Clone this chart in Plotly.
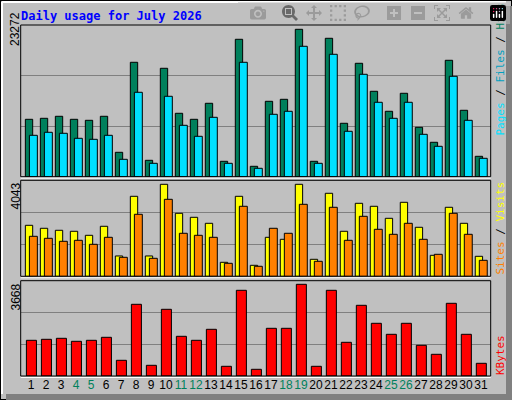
import plotly.graph_objects as go

days = list(range(1, 32))
hits = [9063, 9221, 9537, 9063, 8905, 9537, 3853, 18064, 2590, 17116, 10011, 9063, 11590, 2432, 21695, 1642,
        11905, 12221, 23272, 2432, 21853, 8432, 17906, 13485, 10327, 13169, 7800, 5432, 18380, 10485, 3221]
files = [6537, 7011, 6853, 6063, 5905, 6537, 2747, 13327, 2116, 12695, 8116, 6379, 9379, 2116, 18064, 1326,
         9853, 10327, 20590, 2116, 19327, 7169, 16169, 11748, 9221, 11748, 6695, 4800, 15853, 8905, 2905]
sites = [2241, 2110, 2022, 1978, 1802, 2198, 894, 3516, 894, 4043, 2769, 2593, 2329, 615, 3516, 483,
         1714, 1626, 4043, 747, 3648, 1978, 3208, 3077, 2549, 3252, 2154, 923, 3033, 2329, 879]
visits = [1758, 1670, 1538, 1582, 1406, 1714, 835, 2725, 791, 3384, 1890, 1802, 1714, 571, 3077, 440,
          2110, 1890, 3164, 659, 3033, 1582, 2637, 2066, 1846, 2329, 1626, 967, 2769, 1846, 703]
kbytes = [1428, 1468, 1508, 1388, 1428, 1548, 628, 2868, 428, 2668, 1588, 1428, 1868, 388, 3428, 268,
          1908, 1908, 3668, 388, 3428, 1348, 2828, 2108, 1668, 2108, 1228, 868, 2908, 1668, 508]
weekends = [4, 5, 11, 12, 18, 19, 25, 26]

W, H = 512, 400
def px(x): return x / W
def py(y): return 1 - y / H

line = dict(color="black", width=1)
fig = go.Figure()
fig.add_bar(x=days, y=hits, width=0.49, offset=-0.38, marker=dict(color="#00805C", line=line), xaxis="x", yaxis="y")
fig.add_bar(x=days, y=files, width=0.53, offset=-0.11, marker=dict(color="#00E0FF", line=line), xaxis="x", yaxis="y")
fig.add_bar(x=days, y=sites, width=0.49, offset=-0.38, marker=dict(color="#FFFF00", line=line), xaxis="x2", yaxis="y2")
fig.add_bar(x=days, y=visits, width=0.53, offset=-0.11, marker=dict(color="#FF8000", line=line), xaxis="x2", yaxis="y2")
fig.add_bar(x=days, y=kbytes, width=0.67, offset=-0.31, marker=dict(color="#FF0000", line=line), xaxis="x3", yaxis="y3")

xr = [0.31, 31.65]
xdom = [px(20.7), px(490.7)]
ticktext = [f'<span style="color:#00805C">{d}</span>' if d in weekends else str(d) for d in days]
common_x = dict(range=xr, domain=xdom, showgrid=False, zeroline=False, showline=False, ticks="", automargin=False)
def yax(top, dom):
    return dict(range=[0, top], domain=dom, tickvals=[top / 3, 2 * top / 3], showticklabels=False,
                gridcolor="#808080", gridwidth=1, zeroline=False, showline=False, ticks="", automargin=False)

fig.update_layout(
    width=W, height=H, margin=dict(l=0, r=0, t=0, b=0),
    paper_bgcolor="#C0C0C0", plot_bgcolor="#C0C0C0",
    barmode="overlay", showlegend=False,
    font=dict(family="Liberation Sans", size=12, color="black"),
    xaxis=dict(**common_x, anchor="y", showticklabels=False),
    xaxis2=dict(**common_x, anchor="y2", showticklabels=False),
    xaxis3=dict(**common_x, anchor="y3", tickvals=days, ticktext=ticktext, tickangle=0,
                tickfont=dict(family="Liberation Sans", size=12)),
    yaxis=yax(23951, [py(176.7), py(25)]),
    yaxis2=yax(4219, [py(276.3), py(180.3)]),
    yaxis3=yax(3812, [py(376), py(280.7)]),
)

shapes = []
shapes.append(dict(type="rect", xref="paper", yref="paper", x0=0, x1=1, y0=0, y1=1, line=dict(color="black", width=2)))
shapes.append(dict(type="rect", xref="paper", yref="paper", x0=px(506), x1=1, y0=0, y1=py(6), fillcolor="#808080", line=dict(width=0)))
shapes.append(dict(type="rect", xref="paper", yref="paper", x0=px(6), x1=1, y0=0, y1=py(394), fillcolor="#808080", line=dict(width=0)))
shapes.append(dict(type="line", xref="paper", yref="paper", x0=px(2), x1=px(2), y0=py(394), y1=py(2), line=dict(color="white", width=2)))
shapes.append(dict(type="line", xref="paper", yref="paper", x0=px(2), x1=px(506), y0=py(2), y1=py(2), line=dict(color="white", width=2)))
for (t, b) in [(25, 176.7), (180.3, 276.3), (280.7, 376)]:
    shapes.append(dict(type="rect", xref="paper", yref="paper", x0=xdom[0], x1=xdom[1], y0=py(b), y1=py(t),
                       line=dict(color="black", width=1)))
    shapes.append(dict(type="line", xref="paper", yref="paper", x0=xdom[0], x1=xdom[1], y0=py(b + 1.5), y1=py(b + 1.5),
                       line=dict(color="white", width=1)))
fig.update_layout(shapes=shapes)

mono = "DejaVu Sans Mono"
ann = [
    dict(text="<b>Daily usage for July 2026</b>", x=px(19), y=py(16), xanchor="left", yanchor="middle",
         font=dict(family=mono, size=12, color="#0000FF")),
    dict(text="23272", x=px(15), y=py(10), xanchor="center", yanchor="top", textangle=-90, font=dict(size=12)),
    dict(text="4043", x=px(15), y=py(181), xanchor="center", yanchor="top", textangle=-90, font=dict(size=12)),
    dict(text="3668", x=px(15), y=py(282), xanchor="center", yanchor="top", textangle=-90, font=dict(size=12)),
    dict(text='<span style="color:#00E0FF">Pages</span> / <span style="color:#00A0C0">Files</span> / <span style="color:#00805C">Hits</span>',
         x=px(500), y=py(138), xanchor="center", yanchor="bottom", textangle=-90, font=dict(family=mono, size=11)),
    dict(text='<span style="color:#FF8000">Sites</span> / <span style="color:#FFFF00">Visits</span>',
         x=px(500), y=py(277), xanchor="center", yanchor="bottom", textangle=-90, font=dict(family=mono, size=11)),
    dict(text='<span style="color:#FF0000">KBytes</span>',
         x=px(500), y=py(377), xanchor="center", yanchor="bottom", textangle=-90, font=dict(family=mono, size=11)),
]
for a in ann:
    a.update(xref="paper", yref="paper", showarrow=False)
fig.update_layout(annotations=ann)

fig.write_html("out.html",
               post_script="document.body.style.margin='0';document.body.style.overflow='hidden';")
